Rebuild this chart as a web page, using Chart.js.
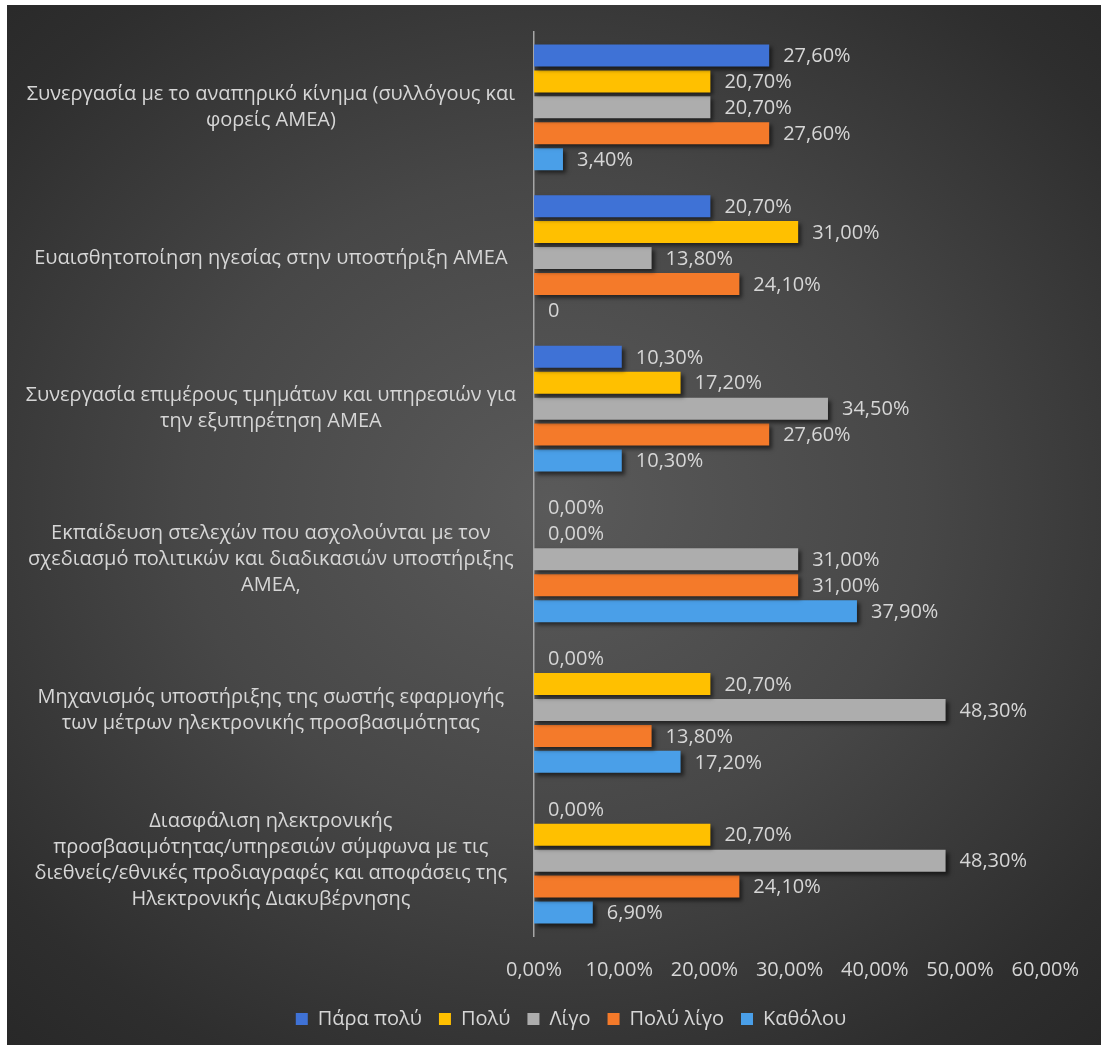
<!DOCTYPE html>
<html>
<head>
<meta charset="utf-8">
<script src="https://cdn.jsdelivr.net/npm/chart.js@4.4.1/dist/chart.umd.min.js"></script>
<style>
  body { margin: 0; background: #fff; }
  #caixa {
    position: absolute; left: 7px; top: 5px; width: 1094px; height: 1040px;
    background: radial-gradient(ellipse 75% 70% at 50% 48%, #5a5a5a 0%, #474747 45%, #2e2e2e 85%, #282828 100%);
  }
</style>
</head>
<body>
<div id="caixa"><canvas id="grafico"></canvas></div>
<script>
const categorias = [
  ['Συνεργασία με το αναπηρικό κίνημα (συλλόγους και', 'φορείς ΑΜΕΑ)'],
  ['Ευαισθητοποίηση ηγεσίας στην υποστήριξη ΑΜΕΑ'],
  ['Συνεργασία επιμέρους τμημάτων και υπηρεσιών για', 'την εξυπηρέτηση ΑΜΕΑ'],
  ['Εκπαίδευση στελεχών που ασχολούνται με τον', 'σχεδιασμό πολιτικών και διαδικασιών υποστήριξης', 'ΑΜΕΑ,'],
  ['Μηχανισμός υποστήριξης της σωστής εφαρμογής', 'των μέτρων ηλεκτρονικής προσβασιμότητας'],
  ['Διασφάλιση ηλεκτρονικής', 'προσβασιμότητας/υπηρεσιών σύμφωνα με τις', 'διεθνείς/εθνικές προδιαγραφές και αποφάσεις της', 'Ηλεκτρονικής Διακυβέρνησης']
]

const paraPolu  = [27.6, 20.7, 10.3, 0, 0, 0]
const polu      = [20.7, 31.0, 17.2, 0, 20.7, 20.7]
const ligo      = [20.7, 13.8, 34.5, 31.0, 48.3, 48.3]
const poluLigo  = [27.6, 24.1, 27.6, 31.0, 13.8, 24.1]
const katholou  = [3.4, 0, 10.3, 37.9, 17.2, 6.9]

// rótulo que aparece sem formato no original
const rotuloEspecial = { 4: { 1: '0' } }

const ticksX = [0, 10, 20, 30, 40, 50, 60]

const corTexto = '#d6d6d6'
const fonte = "'Open Sans', 'Noto Sans', sans-serif"

function formata(v) {
    return v.toFixed(2).replace('.', ',') + '%'
}

const sombra = {
    id: 'sombra',
    beforeDatasetsDraw(chart) {
        const ctx = chart.ctx
        ctx.save()
        ctx.shadowColor = 'rgba(0,0,0,0.55)'
        ctx.shadowOffsetX = 3
        ctx.shadowOffsetY = 3
        ctx.shadowBlur = 4
    },
    afterDatasetsDraw(chart) {
        chart.ctx.restore()
    }
}

const rotulos = {
    id: 'rotulos',
    afterDatasetsDraw(chart) {
        const ctx = chart.ctx
        ctx.save()
        ctx.font = '20px ' + fonte
        ctx.fillStyle = corTexto
        ctx.textAlign = 'left'
        ctx.textBaseline = 'middle'
        chart.data.datasets.forEach((dataset, i) => {
            chart.getDatasetMeta(i).data.forEach((barra, j) => {
                let texto = formata(dataset.data[j])
                if (rotuloEspecial[i] && rotuloEspecial[i][j] !== undefined) texto = rotuloEspecial[i][j]
                ctx.fillText(texto, barra.x + 14, barra.y + 1)
            })
        })
        ctx.restore()
    }
}

// legenda um pouco à direita, como no original
const moveLegenda = {
    id: 'moveLegenda',
    afterLayout(chart) {
        const l = chart.legend
        l.left += 42
        l.right += 42
    }
}

const grafico = document.getElementById('grafico')

new Chart(grafico, {
    type: 'bar',
    data: {
      labels: categorias,
      datasets: [
        { label: 'Πάρα πολύ', data: paraPolu, backgroundColor: '#3f72d6' },
        { label: 'Πολύ', data: polu, backgroundColor: '#ffc000' },
        { label: 'Λίγο', data: ligo, backgroundColor: '#adadad' },
        { label: 'Πολύ λίγο', data: poluLigo, backgroundColor: '#f47a2a' },
        { label: 'Καθόλου', data: katholou, backgroundColor: '#4a9fe8' }
      ]
    },
    options: {
      indexAxis: 'y',
      responsive: true,
      maintainAspectRatio: false,
      animation: false,
      categoryPercentage: 0.86,
      barPercentage: 0.85,
      layout: { padding: { top: 27, right: 50, bottom: 6, left: 0 } },
      scales: {
        x: {
          min: 0, max: 60,
          afterBuildTicks: eixo => { eixo.ticks = ticksX.map(v => ({ value: v })) },
          afterFit: eixo => { eixo.height = 56 },
          grid: { display: false, drawTicks: false },
          border: { display: false },
          ticks: {
            color: corTexto,
            font: { size: 20, family: fonte },
            padding: 22,
            maxRotation: 0,
            callback: v => formata(v)
          }
        },
        y: {
          afterFit: eixo => {
              eixo.width = 527
              eixo.paddingTop = 0
              eixo.paddingBottom = 0
          },
          grid: { display: false, drawTicks: false },
          border: { display: true, color: '#a6a6a6', width: 1.5 },
          ticks: {
            color: corTexto,
            font: { size: 20, family: fonte, lineHeight: 1.3 },
            crossAlign: 'center',
            padding: 18
          }
        }
      },
      plugins: {
        legend: {
          position: 'bottom',
          labels: {
            color: corTexto,
            font: { size: 20, family: fonte },
            boxWidth: 12,
            boxHeight: 12,
            padding: 17
          }
        },
        tooltip: { enabled: false }
      }
    },
    plugins: [sombra, rotulos, moveLegenda]
})
</script>
</body>
</html>
